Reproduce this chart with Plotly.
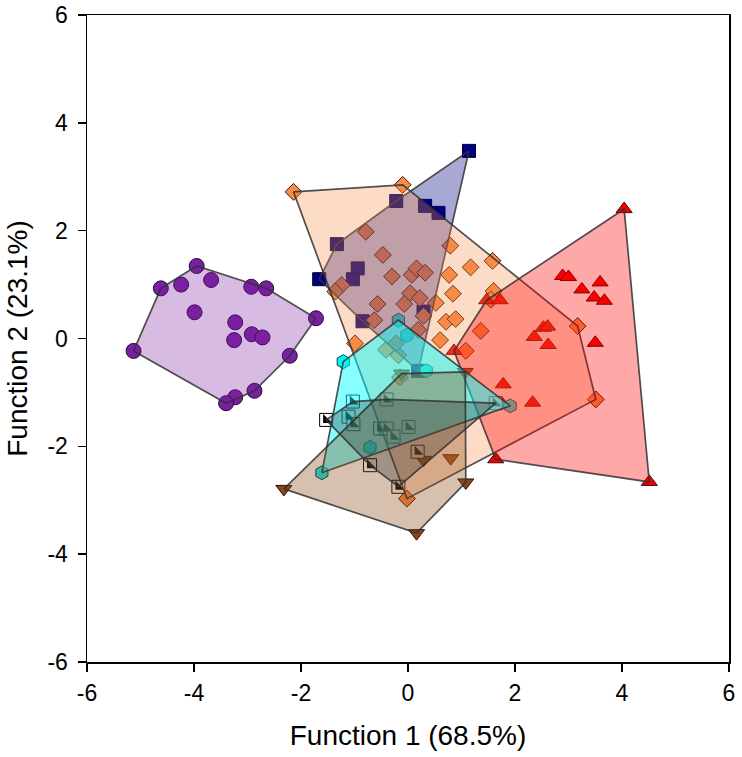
import plotly.graph_objects as go

# ---- data (Function 1, Function 2 scores per group) ----
purple_x = [-3.95, -4.62, -4.24, -3.68, -2.93, -2.65, -1.72, -3.99, -3.23, -2.92, -2.72, -3.25, -2.21, -5.13, -2.87, -3.23, -3.40]
purple_y = [1.345, 0.93, 1.0, 1.085, 0.96, 0.93, 0.375, 0.486, 0.30, 0.078, 0.02, -0.03, -0.32, -0.23, -0.97, -1.09, -1.20]

navy_x = [1.14, -0.22, 0.32, 0.57, -1.33, -0.94, -1.03, -1.66, -0.85, 0.29, 0.19]
navy_y = [3.48, 2.55, 2.46, 2.33, 1.75, 1.30, 1.10, 1.10, 0.32, 0.50, -0.60]

orange_x = [-2.14, -0.10, -0.79, -0.47, 0.79, 1.58, 1.17, -0.30, 0.07, 0.16, 0.32, 0.77, -1.24, -1.36, 0.04, 0.22, 0.84,
            0.52, -0.57, -0.07, 1.60, 1.55, 0.29, 0.71, 0.89, -0.63, 0.19, 0.60, -0.99, 1.08, 1.36, 3.17, 3.51, -0.02,
            -0.41, -0.18, -0.22, -0.15]
orange_y = [2.72, 2.85, 1.98, 1.55, 1.72, 1.44, 1.32, 1.15, 1.18, 1.30, 1.22, 1.18, 0.99, 0.87, 0.84, 0.75, 0.83,
            0.66, 0.64, 0.64, 0.88, 0.72, 0.42, 0.31, 0.36, 0.34, 0.16, -0.03, -0.09, -0.23, 0.14, 0.23, -1.13, -2.97,
            -0.21, -0.31, -0.09, -0.72]

red_x = [4.04, 2.89, 3.00, 3.59, 3.25, 3.48, 3.67, 2.53, 2.61, 2.36, 2.62, 3.50, 1.78, 2.33, 1.64, 4.51, 1.47, 1.72, 0.86, 1.75]
red_y = [2.40, 1.16, 1.14, 1.04, 0.91, 0.76, 0.70, 0.20, 0.22, 0.03, -0.12, -0.08, -0.85, -1.19, -2.24, -2.66, 0.71, 0.71, -0.23, -1.20]

cyan_x = [-0.18, -0.02, -1.21, 0.34, -0.71, -1.61, 1.91]
cyan_y = [0.34, 0.06, -0.43, -0.60, -2.02, -2.49, -1.25]

brown_x = [-2.32, -0.12, 1.07, 1.08, 0.16, 0.80, 0.29]
brown_y = [-2.79, -0.65, -0.62, -2.67, -3.61, -2.22, -2.25]

half_x = [-1.53, -1.03, -0.40, -1.11, -1.02, -0.52, -0.40, -0.27, 0.01, 1.64, -0.71, -0.18, 0.18]
half_y = [-1.51, -1.17, -1.13, -1.45, -1.59, -1.67, -1.67, -1.82, -1.64, -1.20, -2.35, -2.75, -2.10]

x_ticks = [-6, -4, -2, 0, 2, 4, 6]
y_ticks = [-6, -4, -2, 0, 2, 4, 6]
x_title = "Function 1 (68.5%)"
y_title = "Function 2 (23.1%)"


def hull(xs, ys):
    pts = sorted(set(zip(xs, ys)))

    def cross(o, a, b):
        return (a[0] - o[0]) * (b[1] - o[1]) - (a[1] - o[1]) * (b[0] - o[0])

    lower, upper = [], []
    for p in pts:
        while len(lower) >= 2 and cross(lower[-2], lower[-1], p) <= 0:
            lower.pop()
        lower.append(p)
    for p in reversed(pts):
        while len(upper) >= 2 and cross(upper[-2], upper[-1], p) <= 0:
            upper.pop()
        upper.append(p)
    h = lower[:-1] + upper[:-1]
    h.append(h[0])
    return [p[0] for p in h], [p[1] for p in h]


groups = [
    dict(x=purple_x, y=purple_y, symbol="circle", size=15, color="#7A1FA2", line="#2a0a3a", fill=(122, 31, 162), a=0.3),
    dict(x=navy_x, y=navy_y, symbol="square", size=13, color="#000080", line="#000030", fill=(0, 0, 128), a=0.34),
    dict(x=orange_x, y=orange_y, symbol="diamond", size=13, color="#FA8A45", line="#3a1a08", fill=(250, 138, 69), a=0.3),
    dict(x=red_x, y=red_y, symbol="triangle-up", size=14, color="#F20000", line="#500000", fill=(255, 0, 0), a=0.34),
    dict(x=cyan_x, y=cyan_y, symbol="hexagon", size=14, color="#00F5F5", line="#004040", fill=(0, 255, 255), a=0.48),
    dict(x=brown_x, y=brown_y, symbol="triangle-down", size=14, color="#8B4513", line="#2a1005", fill=(139, 69, 19), a=0.34),
]

fig = go.Figure()

# markers first
for g in groups:
    fig.add_trace(go.Scatter(x=g["x"], y=g["y"], mode="markers",
                             marker=dict(symbol=g["symbol"], size=g["size"], color=g["color"],
                                         line=dict(color=g["line"], width=1)),
                             showlegend=False, hoverinfo="skip"))
# half-filled squares
fig.add_trace(go.Scatter(x=half_x, y=half_y, mode="markers",
                         marker=dict(symbol="square", size=13, color="white", line=dict(color="black", width=1)),
                         showlegend=False, hoverinfo="skip"))
fig.add_trace(go.Scatter(x=half_x, y=half_y, mode="markers",
                         marker=dict(symbol="triangle-sw", size=10, color="black", line=dict(width=0)),
                         showlegend=False, hoverinfo="skip"))

# convex hulls on top
for g in groups:
    hx, hy = hull(g["x"], g["y"])
    r, gg, b = g["fill"]
    fig.add_trace(go.Scatter(x=hx, y=hy, mode="lines", fill="toself",
                             fillcolor=f"rgba({r},{gg},{b},{g['a']})",
                             line=dict(color="rgba(50,50,50,0.85)", width=1.7),
                             showlegend=False, hoverinfo="skip"))
hx, hy = hull(half_x, half_y)
fig.add_trace(go.Scatter(x=hx, y=hy, mode="lines", fill="toself",
                         fillcolor="rgba(40,40,40,0.3)",
                         line=dict(color="rgba(50,50,50,0.85)", width=1.7),
                         showlegend=False, hoverinfo="skip"))

font_family = "Liberation Sans, Arial, sans-serif"
axis_common = dict(showgrid=False, zeroline=False, showline=True, linecolor="black", linewidth=1.5,
                   mirror=True, ticks="outside", ticklen=8, tickwidth=1.5, tickcolor="black",
                   automargin=False,
                   tickfont=dict(family=font_family, size=23, color="black"))
fig.update_xaxes(range=[-6, 6], tickvals=x_ticks, ticktext=[str(v) for v in x_ticks],
                 ticklabelstandoff=2,
                 title=dict(text=x_title, font=dict(family=font_family, size=28, color="black"), standoff=20),
                 **axis_common)
fig.update_yaxes(range=[-6, 6], tickvals=y_ticks, ticktext=[str(v) for v in y_ticks],
                 ticklabelstandoff=5,
                 title=dict(text=y_title, font=dict(family=font_family, size=28, color="black"), standoff=11),
                 **axis_common)
fig.update_layout(width=742, height=757, margin=dict(l=87, r=13, t=15, b=95),
                  plot_bgcolor="white", paper_bgcolor="white", showlegend=False)

fig.write_html("out.html", config={"displayModeBar": False, "staticPlot": True},
               post_script="document.body.style.margin='0px';")
